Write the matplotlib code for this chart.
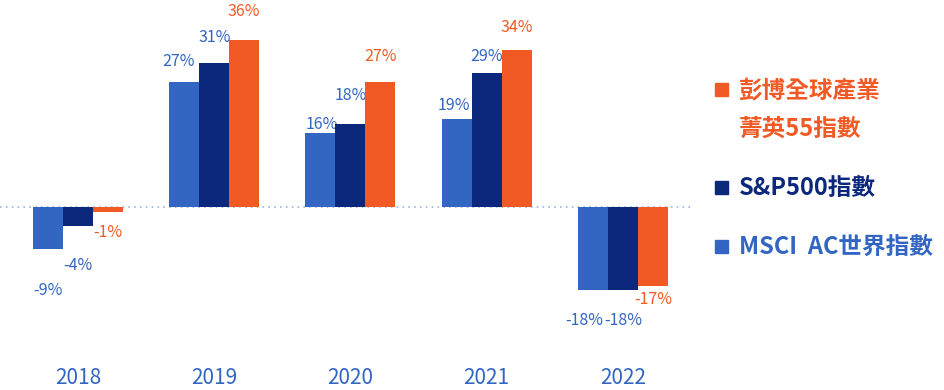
import numpy as np
import matplotlib
matplotlib.use("Agg")
import matplotlib.pyplot as plt
from matplotlib.patches import Rectangle

plt.rcParams['font.family'] = ['Noto Sans CJK TC', 'DejaVu Sans']

# data
years = ['2018', '2019', '2020', '2021', '2022']
msci = [-9, 27, 16, 19, -18]
sp500 = [-4, 31, 18, 29, -18]
bbg = [-1, 36, 27, 34, -17]

series_names = ['彭博全球產業\n菁英55指數', 'S&P500指數', 'MSCI  AC世界指數']

c_orange = '#f15a24'
c_navy = '#0c287c'
c_blue = '#3366c2'
c_line = '#9fb4e0'

# label offsets (points) per bar, tuned to match layout
off_msci = [(0, -30), (-4, 15), (1, 6), (-2, 10), (-6, -22)]
off_sp = [(0, -29), (0, 19), (0, 20), (0, 12), (0, -22)]
off_bbg = [(0, -15), (0, 21), (0, 18), (0, 16), (0, -10)]

fig = plt.figure(figsize=(9.45, 3.9), dpi=100)
ax = fig.add_axes([0, 35 / 390, 690 / 945, 355 / 390])

x = np.arange(len(years))
w = 0.22
ppu = 4.63
ax.set_xlim(-78 / 136.2, (690 - 78) / 136.2)
ax.set_ylim(-(355 - 207) / ppu, 207 / ppu)

groups = [(msci, c_blue, c_blue, -w, off_msci),
          (sp500, c_navy, c_blue, 0, off_sp),
          (bbg, c_orange, c_orange, w, off_bbg)]
for vals, col, tcol, dx, offs in groups:
    ax.bar(x + dx, vals, width=w, color=col, zorder=3)
    for xi, v, o in zip(x, vals, offs):
        ax.annotate(f'{v}%', (xi + dx, v), xytext=o, textcoords='offset points',
                    ha='center', va='center', fontsize=11.5, color=tcol)

ax.axhline(0, color=c_line, lw=1.2, ls=(0, (1, 2.5)), zorder=1)

for s in ax.spines.values():
    s.set_visible(False)
ax.set_yticks([])
ax.set_xticks(x)
ax.set_xticklabels(years, fontsize=15, color=c_blue)
ax.tick_params(axis='x', length=0, pad=9)

# legend
leg = [(series_names[0], c_orange, 89), (series_names[1], c_navy, 187), (series_names[2], c_blue, 246)]
for name, col, yc in leg:
    fig.patches.append(Rectangle((715 / 945, 1 - (yc + 6.5) / 390), 13 / 945, 13 / 390,
                                 transform=fig.transFigure, color=col))
    fig.text(739 / 945, 1 - (yc - 11) / 390, name, ha='left', va='top', fontsize=17,
             fontweight='bold', color=col, linespacing=1.78)

fig.savefig('out.png', dpi=100)
